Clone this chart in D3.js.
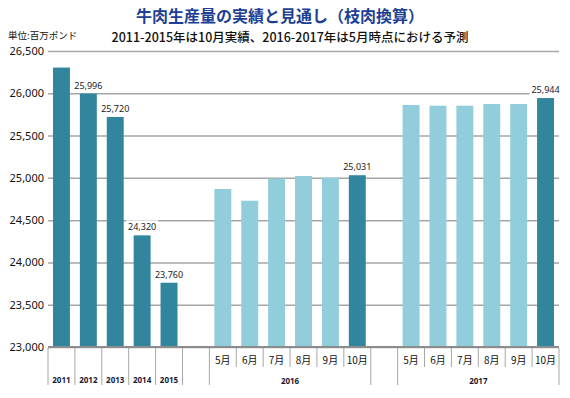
<!DOCTYPE html>
<html>
<head>
<meta charset="utf-8">
<script src="https://cdn.jsdelivr.net/npm/d3@7"></script>
<style>
  body { margin: 0; background: #fff; }
  svg { display: block; }
  text { font-family: "Noto Sans", "Noto Sans CJK JP", sans-serif; }
  .jp { font-family: "Noto Sans CJK JP", sans-serif; }
</style>
</head>
<body>
<div id="chart"></div>
<script>
// --- data ---
const years = ["2011", "2012", "2013", "2014", "2015"];
const actualValues = [26304, 25996, 25720, 24320, 23760];
const months = ["5月", "6月", "7月", "8月", "9月", "10月"];
const forecast2016 = [24868, 24730, 24992, 25022, 25002, 25031];
const forecast2017 = [25862, 25853, 25853, 25873, 25873, 25944];
const groups = ["2016", "2017"];
const labelled = ["2012", "2013", "2014", "2015", "2016-10月", "2017-10月"];
const yTicks = [23000, 23500, 24000, 24500, 25000, 25500, 26000, 26500];

const width = 570, height = 398;
const plotLeft = 48, plotRight = 559, plotTop = 51, plotBottom = 347;

const darkColor = "#31859c";
const lightColor = "#92cddc";

// flat list of slots: years, blank, 2016 months, blank, 2017 months
const slots = [];
years.forEach((yr, i) => slots.push({ key: yr, label: yr, value: actualValues[i], type: "year" }));
slots.push({ key: "gap1", type: "blank" });
months.forEach((m, i) => slots.push({ key: "2016-" + m, label: m, value: forecast2016[i], type: "month", group: "2016", last: i === months.length - 1 }));
slots.push({ key: "gap2", type: "blank" });
months.forEach((m, i) => slots.push({ key: "2017-" + m, label: m, value: forecast2017[i], type: "month", group: "2017", last: i === months.length - 1 }));

const svg = d3.select("#chart").append("svg")
    .attr("width", width)
    .attr("height", height);

const x = d3.scaleBand()
    .domain(slots.map(d => d.key))
    .range([plotLeft, plotRight])
    .paddingInner(0.37)
    .paddingOuter(0.185);

const y = d3.scaleLinear()
    .domain([23000, 26500])
    .range([plotBottom, plotTop]);

const step = x.step();
const slotStart = k => x(k) - step * x.paddingInner() / 2;

// titles
svg.append("text")
    .attr("class", "jp")
    .attr("x", 280).attr("y", 22)
    .attr("text-anchor", "middle")
    .attr("font-size", 16)
    .attr("font-weight", "bold")
    .attr("fill", "#1d3f95")
    .text("牛肉生産量の実績と見通し（枝肉換算）");

svg.append("text")
    .attr("class", "jp")
    .attr("x", 8).attr("y", 39)
    .attr("font-size", 9.5)
    .attr("fill", "#111")
    .text("単位:百万ポンド");

svg.append("text")
    .attr("class", "jp")
    .attr("x", 290).attr("y", 42)
    .attr("text-anchor", "middle")
    .attr("font-size", 12.5)
    .attr("font-weight", 500)
    .attr("fill", "#111")
    .text("2011-2015年は10月実績、2016-2017年は5月時点における予測");

// y axis + gridlines
const yAxis = svg.append("g")
    .attr("transform", `translate(${plotLeft},0)`)
    .call(d3.axisLeft(y).tickValues(yTicks).tickFormat(d3.format(",")).tickSize(-(plotRight - plotLeft)).tickPadding(4));
yAxis.select(".domain").remove();
yAxis.selectAll(".tick line")
    .attr("stroke", "#a6a6a6")
    .attr("stroke-width", 1.5);
yAxis.selectAll(".tick text")
    .attr("font-size", 11)
    .attr("fill", "#111");

// bars
const barData = slots.filter(d => d.type !== "blank");
svg.append("g").selectAll("rect")
    .data(barData)
    .join("rect")
    .attr("x", d => x(d.key))
    .attr("width", x.bandwidth())
    .attr("y", d => y(d.value))
    .attr("height", d => y(23000) - y(d.value))
    .attr("fill", d => (d.type === "year" || d.last) ? darkColor : lightColor);

// value labels with white background
const fmt = d3.format(",");
const lab = svg.append("g").selectAll("g")
    .data(barData.filter(d => labelled.includes(d.key)))
    .join("g")
    .attr("transform", d => `translate(${x(d.key) + x.bandwidth() / 2},${y(d.value) - 5})`);
lab.append("rect")
    .attr("x", -16).attr("y", -10)
    .attr("width", 32).attr("height", 12)
    .attr("fill", "#fff");
lab.append("text")
    .attr("text-anchor", "middle")
    .attr("font-size", 9)
    .attr("fill", "#222")
    .text(d => fmt(d.value));

// baseline
svg.append("line")
    .attr("x1", plotLeft).attr("x2", plotRight)
    .attr("y1", plotBottom).attr("y2", plotBottom)
    .attr("stroke", "#8c8c8c")
    .attr("stroke-width", 2);

// category separators
const sep = svg.append("g").attr("stroke", "#a6a6a6").attr("stroke-width", 1);
for (let i = 0; i <= slots.length; i++) {
    const prev = slots[i - 1], next = slots[i];
    const bx = next ? slotStart(next.key) : plotRight;
    const short = prev && next && prev.type === "month" && next.type === "month";
    sep.append("line")
        .attr("x1", bx).attr("x2", bx)
        .attr("y1", plotBottom + 1)
        .attr("y2", short ? 367 : 385);
}

// category labels
svg.append("g").selectAll("text")
    .data(slots.filter(d => d.type === "year"))
    .join("text")
    .attr("x", d => x(d.key) + x.bandwidth() / 2)
    .attr("y", 383)
    .attr("text-anchor", "middle")
    .attr("font-size", 8)
    .attr("font-weight", "bold")
    .attr("fill", "#1a1a33")
    .text(d => d.label);

svg.append("g").selectAll("text")
    .data(slots.filter(d => d.type === "month"))
    .join("text")
    .attr("class", "jp")
    .attr("x", d => x(d.key) + x.bandwidth() / 2)
    .attr("y", 364)
    .attr("text-anchor", "middle")
    .attr("font-size", 10)
    .attr("fill", "#111")
    .text(d => d.label);

svg.append("g").selectAll("text")
    .data(groups)
    .join("text")
    .attr("x", g => {
        const first = slotStart(g + "-" + months[0]);
        const lastKey = g + "-" + months[months.length - 1];
        return (first + slotStart(lastKey) + step) / 2;
    })
    .attr("y", 384)
    .attr("text-anchor", "middle")
    .attr("font-size", 8)
    .attr("font-weight", "bold")
    .attr("fill", "#1a1a33")
    .text(g => g);
</script>
</body>
</html>
